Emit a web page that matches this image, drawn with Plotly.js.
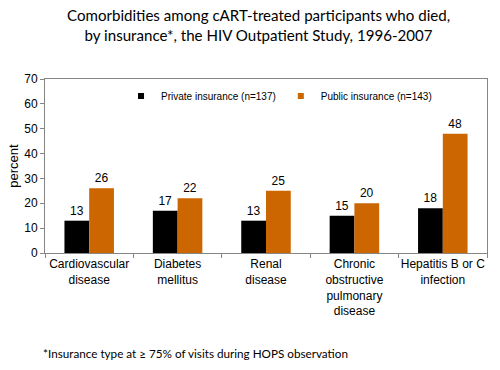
<!DOCTYPE html>
<html><head><meta charset="utf-8">
<script src="https://cdn.plot.ly/plotly-3.0.1.min.js"></script>
<style>body{margin:0;background:#fff}#c{width:500px;height:370px}</style>
</head><body><div id="c"></div>
<script>
const categories = ["Cardiovascular<br>disease","Diabetes<br>mellitus","Renal<br>disease","Chronic<br>obstructive<br>pulmonary<br>disease","Hepatitis B or C<br>infection"];
const privateVals = [13, 17, 13, 15, 18];
const publicVals = [26, 22, 25, 20, 48];
const seriesNames = ["Private insurance (n=137)", "Public insurance (n=143)"];
const seriesColors = ["#000000", "#CC6600"];
const yTicks = [0,10,20,30,40,50,60,70];

const axFont = {family: "Liberation Sans, Arial, sans-serif", size: 12, color: "#000"};
const traces = [
  {type:"bar", x:categories, y:privateVals, name:seriesNames[0], marker:{color:seriesColors[0]}, showlegend:false,
   text:privateVals.map(String), textposition:"outside", textfont:axFont, cliponaxis:false},
  {type:"bar", x:categories, y:publicVals, name:seriesNames[1], marker:{color:seriesColors[1]}, showlegend:false,
   text:publicVals.map(String), textposition:"outside", textfont:axFont, cliponaxis:false},
  {type:"scatter", mode:"markers", x:[null], y:[null], name:seriesNames[0],
   marker:{symbol:"square", size:6, color:seriesColors[0]}},
  {type:"scatter", mode:"markers", x:[null], y:[null], name:seriesNames[1],
   marker:{symbol:"square", size:6, color:seriesColors[1]}}
];
const layout = {
  width:500, height:370,
  margin:{l:45, r:13, t:79, b:117},
  paper_bgcolor:"#fff", plot_bgcolor:"#fff",
  barmode:"group", bargap:0.44, bargroupgap:0,
  showlegend:true,
  legend:{orientation:"h", x:0.172, y:0.985, xanchor:"left", yanchor:"top",
    font:{family:"Liberation Sans, Arial, sans-serif", size:10, color:"#000"},
    bgcolor:"rgba(0,0,0,0)", itemwidth:30, traceorder:"normal", tracegroupgap:0},
  xaxis:{type:"category", tickfont:axFont, tickangle:0, showline:true, linecolor:"#868686", mirror:true,
    ticks:"outside", tickson:"boundaries", ticklen:4, tickcolor:"#868686", showgrid:false},
  yaxis:{range:[0,70], tickvals:yTicks, tickfont:axFont, showline:true, linecolor:"#868686", mirror:true,
    ticks:"outside", ticklen:4, tickcolor:"#868686", showgrid:false, zeroline:false,
    title:{text:"percent", font:{family:"Liberation Sans, Arial, sans-serif", size:13, color:"#000"}, standoff:2}},
  annotations:[
    {text:"Comorbidities among cART-treated participants who died,<br>by insurance*, the HIV Outpatient Study, 1996-2007",
     xref:"paper", yref:"paper", x:0.483, y:1.31, xanchor:"center", yanchor:"middle", showarrow:false,
     font:{family:"Lato, Open Sans, sans-serif", size:15.1, color:"#000"}},
    {text:"*Insurance type at ≥ 75% of visits during HOPS observation", xref:"paper", yref:"paper",
    x:-0.01, y:-0.575, xanchor:"left", yanchor:"middle", showarrow:false,
    font:{family:"Lato, Open Sans, sans-serif", size:11.7, color:"#000"}}]
};
Plotly.newPlot("c", traces, layout, {displayModeBar:false, staticPlot:true});
</script></body></html>
